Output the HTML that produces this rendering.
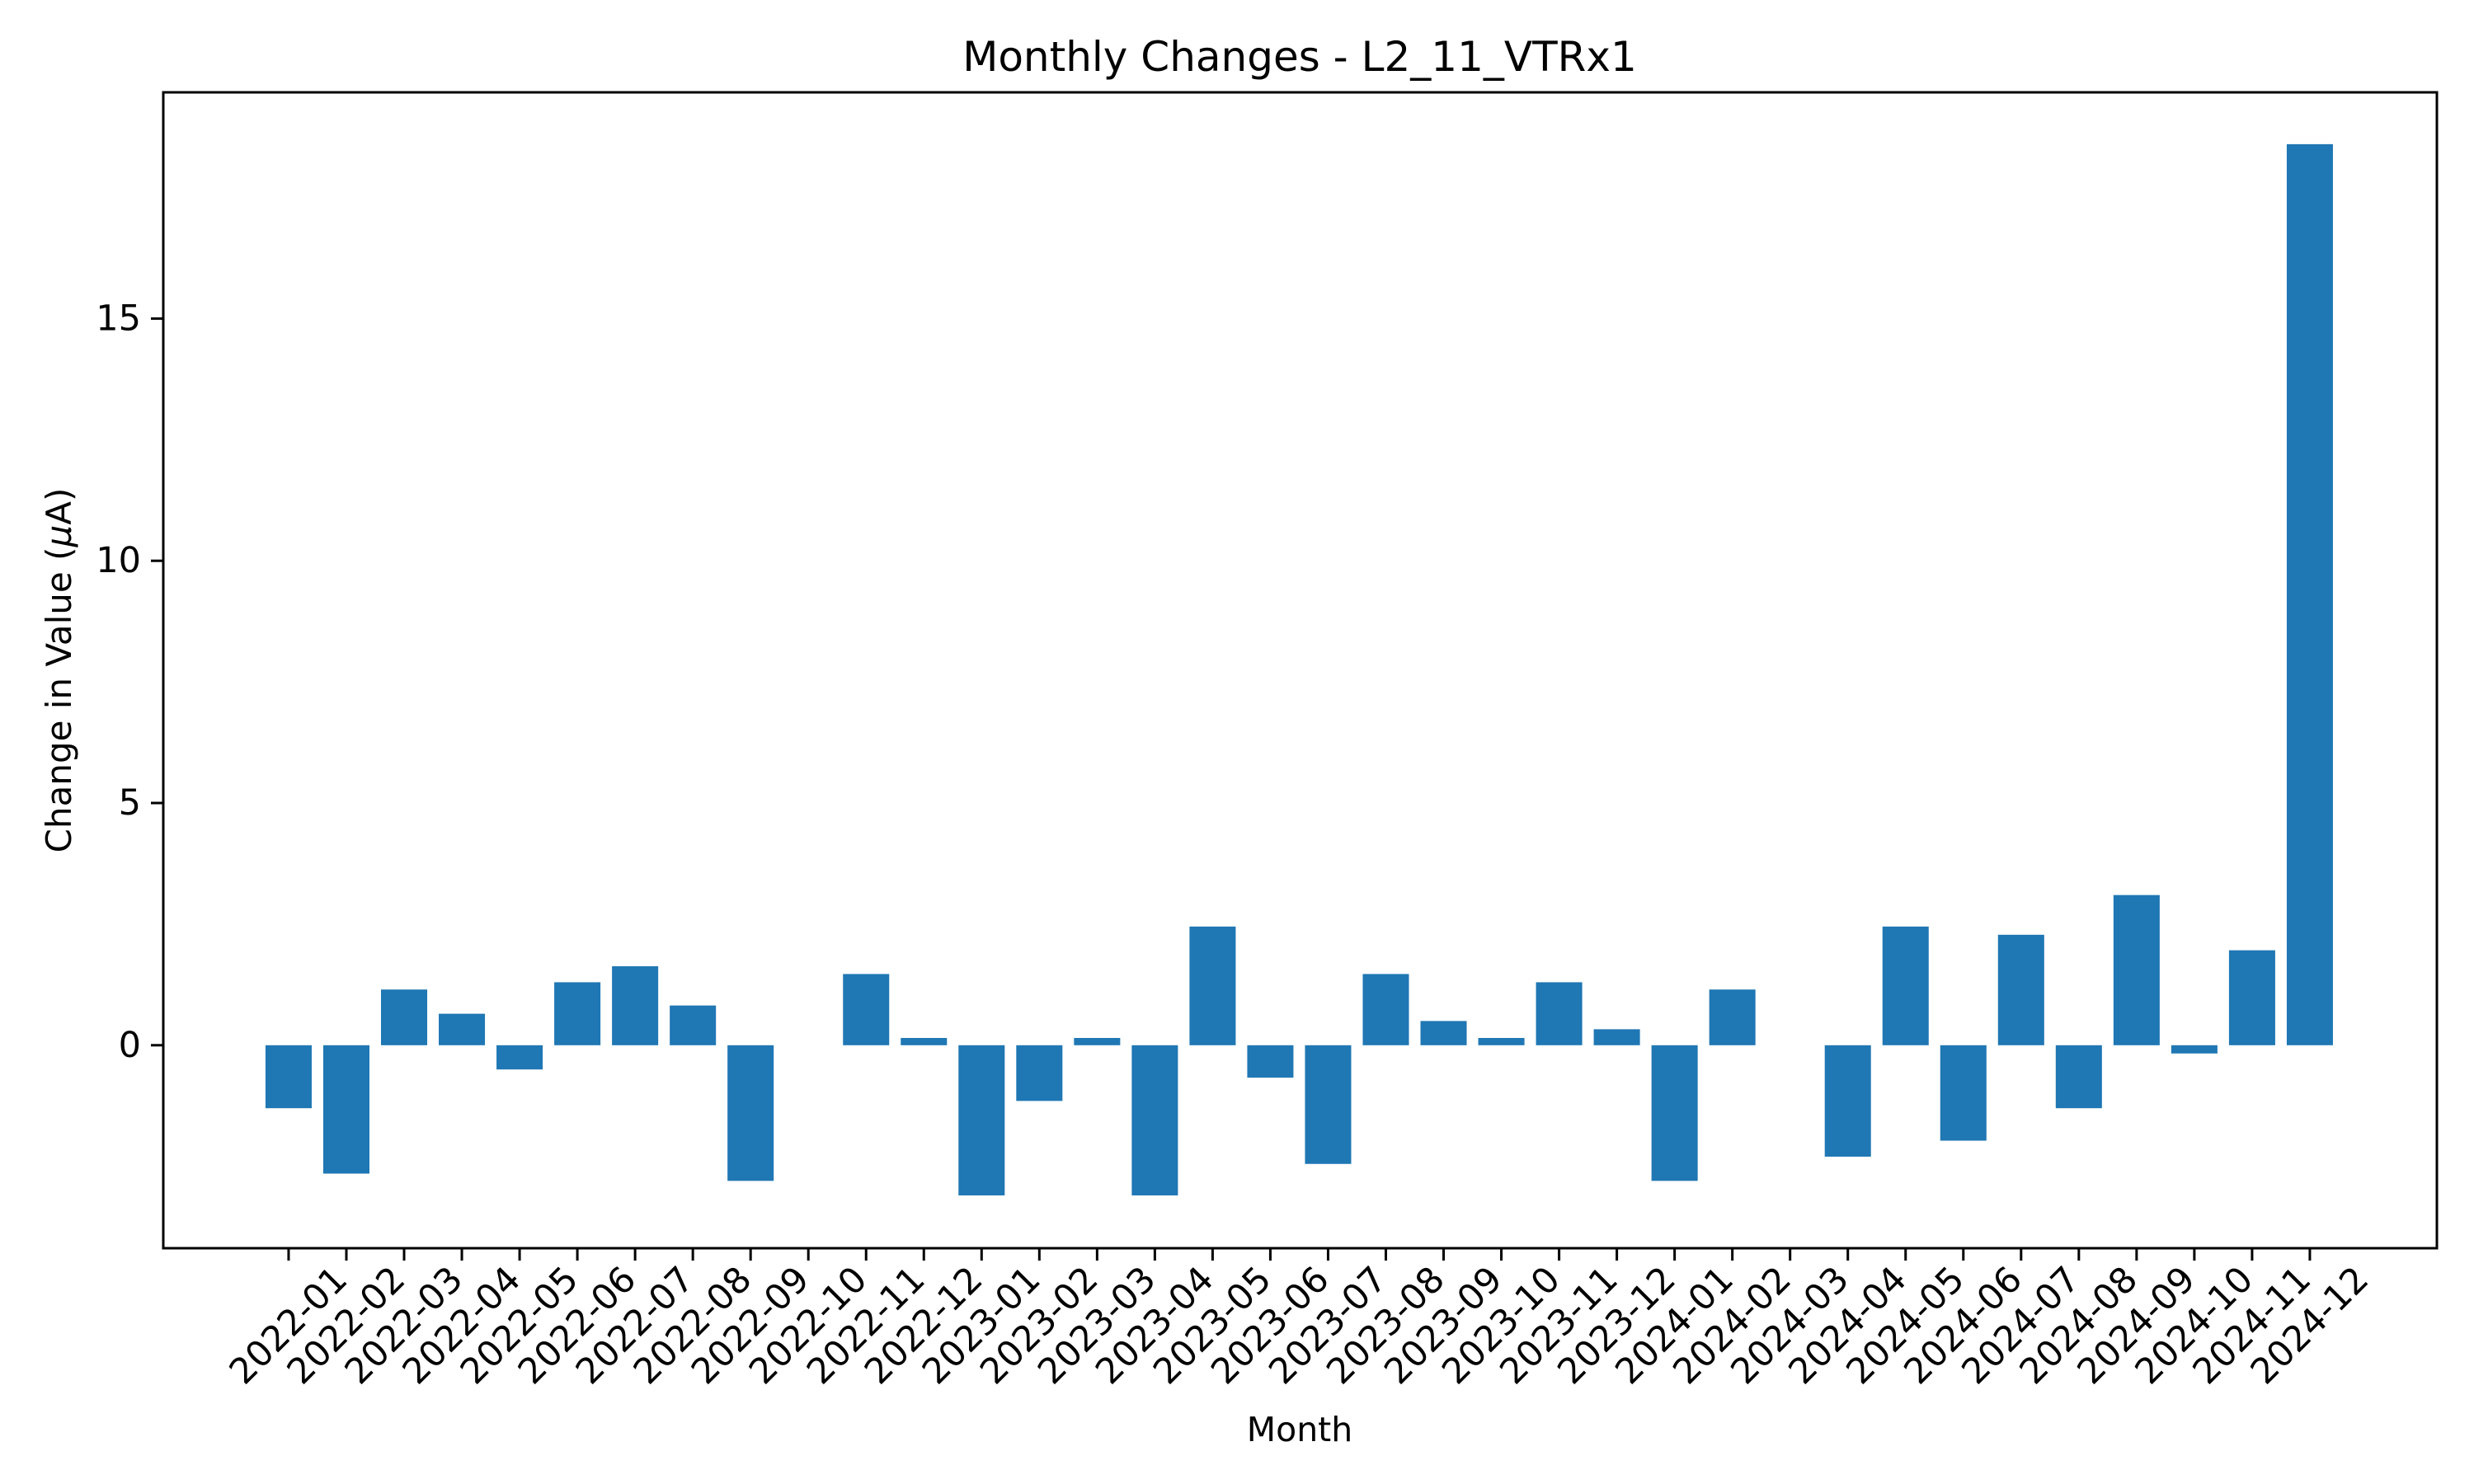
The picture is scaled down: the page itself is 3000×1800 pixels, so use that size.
<!DOCTYPE html>
<html><head><meta charset="utf-8"><style>
html,body{margin:0;padding:0;background:#fff;}
svg{display:block;font-family:"DejaVu Sans","Liberation Sans",sans-serif;}
</style></head><body>
<svg id="chart" width="3000" height="1800" viewBox="0 0 3000 1800">
<rect x="0" y="0" width="3000" height="1800" fill="#fff"/>
<text x="1576" y="86" font-size="50" text-anchor="middle">Monthly Changes - L2_11_VTRx1</text>
<g id="plot"></g>
<text x="1576" y="1748" font-size="41" text-anchor="middle">Month</text>
<text transform="translate(86,813) rotate(-90)" font-size="42" text-anchor="middle">Change in Value (<tspan font-style="italic">μ</tspan>A)</text>
</svg>
<script>
const categories = ["2022-01","2022-02","2022-03","2022-04","2022-05","2022-06","2022-07","2022-08","2022-09","2022-10","2022-11","2022-12","2023-01","2023-02","2023-03","2023-04","2023-05","2023-06","2023-07","2023-08","2023-09","2023-10","2023-11","2023-12","2024-01","2024-02","2024-03","2024-04","2024-05","2024-06","2024-07","2024-08","2024-09","2024-10","2024-11","2024-12"];
const values = [-1.3,-2.65,1.15,0.65,-0.5,1.3,1.63,0.82,-2.8,0,1.47,0.15,-3.1,-1.15,0.15,-3.1,2.45,-0.67,-2.45,1.47,0.5,0.15,1.3,0.33,-2.8,1.15,0,-2.3,2.45,-1.97,2.28,-1.3,3.1,-0.17,1.96,18.6];
const yTicks = [0,5,10,15];

const L=198,R=2955,T=112,B=1514;
const xMin=-2.17,xMax=37.2,yMin=-4.19,yMax=19.67;
const NS="http://www.w3.org/2000/svg";
const plot=document.getElementById('plot');
function xs(v){return L+(v-xMin)/(xMax-xMin)*(R-L);}
function ys(v){return B-(v-yMin)/(yMax-yMin)*(B-T);}
function mk(tag,attrs){const e=document.createElementNS(NS,tag);for(const k in attrs)e.setAttribute(k,attrs[k]);plot.appendChild(e);return e;}
const bw=xs(0.8)-xs(0);
values.forEach((v,i)=>{
  const y0=ys(0),y1=ys(v);
  const r=mk('rect',{x:xs(i)-bw/2,y:Math.min(y0,y1),width:bw,height:Math.abs(y1-y0),fill:'#1f77b4'});
  
  
  const t=mk('line',{x1:xs(i),x2:xs(i),y1:B,y2:B+15,stroke:'#000','stroke-width':3});
  
  
  const lb=mk('text',{x:0,y:0,'font-size':43,'text-anchor':'middle','dominant-baseline':'central',transform:`translate(${xs(i)},1608) rotate(-45)`});
  lb.textContent=categories[i];
  
  
});
yTicks.forEach(v=>{
  const t=mk('line',{x1:L-15,x2:L,y1:ys(v),y2:ys(v),stroke:'#000','stroke-width':3});
  
  
  const lb=mk('text',{x:L-27,y:ys(v),'font-size':43,'text-anchor':'end','dominant-baseline':'central'});
  lb.textContent=String(v);
  
  
});
const frame=mk('rect',{x:L,y:T,width:R-L,height:B-T,fill:'none',stroke:'#000','stroke-width':3});


</script>
</body></html>
